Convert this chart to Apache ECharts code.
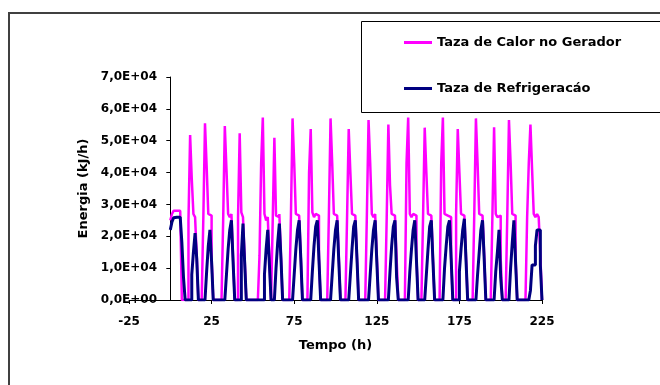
<!DOCTYPE html>
<html>
<head>
<meta charset="utf-8">
<script src="https://cdn.jsdelivr.net/npm/echarts@6/dist/echarts.min.js"></script>
<style>
  html, body { margin: 0; padding: 0; background: #fff; }
  #chart { width: 660px; height: 385px; }
</style>
</head>
<body>
<div id="chart"></div>
<script>
// tempo (h) e taxas (kJ/h)
const timeH = [
  0, 1, 2, 3, 4, 5, 6, 7, 8, 9, 10,
  11, 12, 13, 14, 15, 16, 17, 19,
  20, 21, 22, 23, 24, 25, 26, 31,
  32, 33, 34, 35, 36, 37, 38, 39, 40,
  41, 42, 43, 44, 45, 46, 53,
  54, 55, 56, 57, 58, 59, 60, 61,
  62, 63, 64, 65, 66, 67, 68, 72,
  73, 74, 75, 76, 77, 78, 79, 80, 83,
  84, 85, 86, 87, 88, 89, 90, 91, 95,
  96, 97, 98, 99, 100, 101, 102, 103, 106,
  107, 108, 109, 110, 111, 112, 113, 114, 118,
  119, 120, 121, 122, 123, 124, 125, 126, 130,
  131, 132, 133, 134, 135, 136, 137, 138, 142,
  143, 144, 145, 146, 147, 148, 149, 150, 152,
  153, 154, 155, 156, 157, 158, 159, 160, 163,
  164, 165, 166, 167, 168, 169, 170, 171, 172,
  173, 174, 175, 176, 177, 178, 179, 180, 183,
  184, 185, 186, 187, 188, 189, 190, 191, 194,
  195, 196, 197, 198, 199, 200, 201, 203,
  204, 205, 206, 207, 208, 209, 210, 215,
  216, 217, 218, 219, 220, 221, 222, 223, 224, 225
];
const heatGen = [
  25000, 27000, 28000, 28000, 28000, 28000, 28000, 0, 0, 0, 0,
  25000, 51800, 38000, 27000, 26000, 14000, 0, 0,
  26000, 55500, 42000, 27000, 26500, 13000, 0, 0,
  25000, 54600, 41000, 27000, 26000, 27000, 13500, 0, 0,
  26000, 52300, 27500, 26000, 13000, 0, 0,
  14000, 43000, 57300, 27000, 25000, 26000, 13000, 0,
  25000, 50900, 26500, 26000, 27000, 13500, 0, 0,
  26000, 57000, 43000, 27000, 26500, 27000, 13500, 0, 0,
  40000, 53700, 27500, 26000, 27000, 26500, 13000, 0, 0,
  27000, 57000, 43000, 27000, 26500, 27000, 13500, 0, 0,
  26000, 53700, 40000, 27000, 26500, 27000, 13500, 0, 0,
  27000, 56500, 43000, 27000, 26000, 27000, 14000, 0, 0,
  26000, 55100, 36000, 27000, 26500, 26000, 13000, 0, 0,
  43000, 57300, 27000, 26000, 27000, 26500, 13500, 0, 0,
  26000, 54100, 40000, 27000, 26500, 27000, 13000, 0, 0,
  43000, 57300, 27000, 26500, 27000, 26000, 13500, 0, 0,
  27000, 53700, 40000, 27000, 26500, 27000, 13500, 0, 0,
  27000, 57000, 43000, 27000, 26500, 27000, 14000, 0, 0,
  27000, 54200, 27000, 26000, 26500, 13000, 0, 0,
  27000, 56500, 43000, 27000, 26500, 13000, 0, 0,
  26000, 43000, 55100, 41000, 27000, 26000, 27000, 26000, 14000, 0
];
const refrig = [
  22000, 24500, 25800, 26000, 26000, 26000, 26000, 18000, 7000, 0, 0,
  0, 0, 8000, 15000, 21000, 13000, 0, 0,
  0, 0, 9000, 17000, 22000, 12000, 0, 0,
  0, 0, 8000, 16000, 22000, 25000, 12000, 0, 0,
  0, 0, 14000, 24000, 12000, 0, 0,
  0, 0, 0, 8000, 16000, 22000, 11000, 0,
  0, 0, 10000, 18000, 24000, 13000, 0, 0,
  0, 0, 8000, 16000, 22000, 25000, 13000, 0, 0,
  0, 0, 9000, 17000, 23000, 25000, 12500, 0, 0,
  0, 0, 8000, 16000, 22000, 25000, 12000, 0, 0,
  0, 0, 8000, 16000, 23000, 25000, 13000, 0, 0,
  0, 0, 8000, 16000, 22000, 25000, 12000, 0, 0,
  0, 0, 9000, 17000, 23000, 25000, 7000, 0, 0,
  0, 0, 9000, 16000, 22000, 25000, 12500, 0, 0,
  0, 0, 8000, 16000, 23000, 25000, 12000, 0, 0,
  0, 0, 10000, 17000, 23000, 25000, 13000, 0, 0,
  0, 0, 9000, 16000, 22000, 25500, 12500, 0, 0,
  0, 0, 8000, 15000, 22000, 25000, 13000, 0, 0,
  0, 0, 9000, 15000, 22000, 7000, 0, 0,
  0, 0, 10000, 18000, 25000, 12000, 0, 0,
  0, 0, 3000, 11000, 11000, 17000, 22000, 22000, 11000, 0
];
const yTickLabels = ['0,0E+00', '1,0E+04', '2,0E+04', '3,0E+04', '4,0E+04', '5,0E+04', '6,0E+04', '7,0E+04'];
const seriesNames = ['Taza de Calor no Gerador', 'Taza de Refrigeracáo'];

const font = 'DejaVu Sans';

const chart = echarts.init(document.getElementById('chart'));
chart.setOption({
  animation: false,
  grid: { left: 129, right: 118, top: 77, bottom: 85 },
  graphic: [
    {
      type: 'rect',
      shape: { x: 9, y: 13, width: 700, height: 420 },
      style: { fill: 'none', stroke: '#404040', lineWidth: 2 },
      silent: true
    },
    {
      type: 'rect',
      shape: { x: 361.5, y: 21.5, width: 400, height: 91 },
      style: { fill: '#fff', stroke: '#000', lineWidth: 1 },
      silent: true
    }
  ],
  legend: {
    orient: 'vertical',
    left: 404,
    top: 36,
    padding: 0,
    itemWidth: 28,
    itemHeight: 3,
    itemGap: 33,
    icon: 'rect',
    data: seriesNames,
    textStyle: { fontFamily: font, fontWeight: 'bold', fontSize: 13, color: '#000' },
    z: 10
  },
  xAxis: {
    type: 'value',
    min: -25,
    max: 225,
    interval: 50,
    name: 'Tempo (h)',
    nameLocation: 'middle',
    nameGap: 39,
    nameTextStyle: { fontFamily: font, fontWeight: 'bold', fontSize: 13, color: '#000' },
    axisLine: { onZero: false, lineStyle: { color: '#000', width: 1 } },
    axisTick: { show: true, length: 4, lineStyle: { color: '#000' } },
    axisLabel: { margin: 16, fontFamily: font, fontWeight: 'bold', fontSize: 12, color: '#000' },
    splitLine: { show: false }
  },
  yAxis: {
    type: 'value',
    min: 0,
    max: 70000,
    interval: 10000,
    name: 'Energia (kJ/h)',
    nameLocation: 'middle',
    nameGap: 32,
    nameTextStyle: { fontFamily: font, fontWeight: 'bold', fontSize: 13, color: '#000' },
    axisLine: { show: true, onZero: true, lineStyle: { color: '#000', width: 1 } },
    axisTick: { show: true, length: 4, lineStyle: { color: '#000' } },
    axisLabel: {
      margin: -28,
      fontFamily: font,
      fontWeight: 'bold',
      fontSize: 12,
      color: '#000',
      formatter: function (v) { return yTickLabels[Math.round(v / 10000)]; }
    },
    splitLine: { show: false }
  },
  series: [
    {
      name: seriesNames[0],
      type: 'line',
      step: 'end',
      data: timeH.map((t, i) => [t, heatGen[i]]),
      showSymbol: false,
      symbol: 'none',
      lineStyle: { color: '#ff00ff', width: 2.5 },
      itemStyle: { color: '#ff00ff' }
    },
    {
      name: seriesNames[1],
      type: 'line',
      step: 'end',
      data: timeH.map((t, i) => [t, refrig[i]]),
      showSymbol: false,
      symbol: 'none',
      lineStyle: { color: '#000080', width: 3 },
      itemStyle: { color: '#000080' }
    }
  ]
});
</script>
</body>
</html>
